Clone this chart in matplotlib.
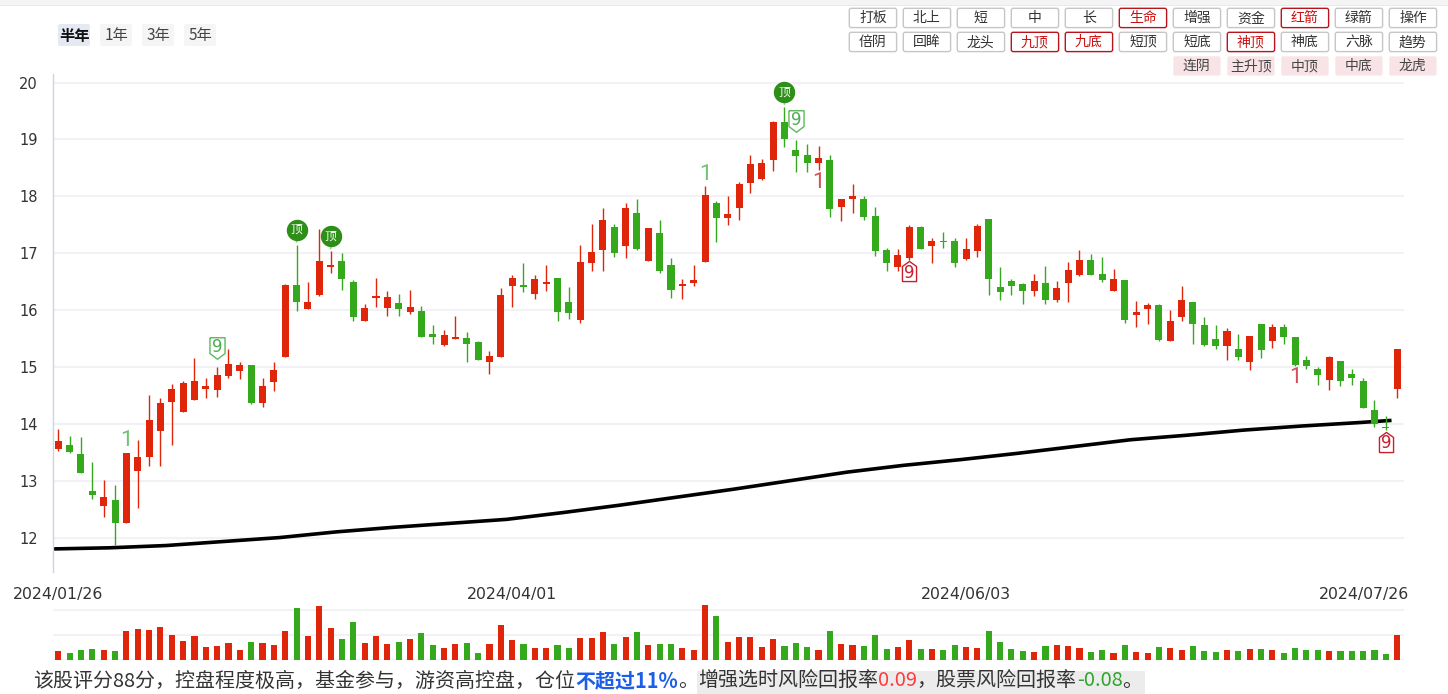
import numpy as np
import matplotlib
matplotlib.use("Agg")
import matplotlib.pyplot as plt
from matplotlib.patches import FancyBboxPatch, Rectangle
from matplotlib.transforms import Affine2D, offset_copy, blended_transform_factory

# ── data ────────────────────────────────────────────────────────────
opens = [13.55, 13.63, 13.47, 12.82, 12.55, 12.66, 12.26, 13.17, 13.42, 13.88,
         14.38, 14.21, 14.41, 14.62, 14.60, 14.84, 14.92, 15.04, 14.36, 14.74,
         15.18, 16.44, 16.02, 16.27, 16.76, 16.86, 16.49, 15.81, 16.21, 16.04,
         16.12, 15.97, 15.98, 15.58, 15.38, 15.49, 15.50, 15.44, 15.08, 15.18,
         16.43, 16.44, 16.29, 16.45, 16.57, 16.14, 15.82, 16.83, 17.05, 17.46,
         17.12, 17.71, 16.87, 17.36, 16.79, 16.42, 16.47, 16.85, 17.88, 17.61,
         17.80, 18.24, 18.30, 18.64, 19.31, 18.81, 18.73, 18.59, 18.64, 17.81,
         17.96, 17.95, 17.65, 17.06, 16.75, 16.92, 17.46, 17.13, 17.21, 17.21,
         16.90, 17.04, 17.60, 16.41, 16.51, 16.46, 16.34, 16.48, 16.17, 16.48,
         16.61, 16.88, 16.63, 16.34, 16.53, 15.92, 16.01, 16.09, 15.45, 15.87,
         16.14, 15.74, 15.49, 15.37, 15.32, 15.09, 15.76, 15.45, 15.70, 15.53,
         15.12, 14.96, 14.77, 15.11, 14.88, 14.75, 14.24, 13.93, 14.61]
highs = [13.91, 13.79, 13.77, 13.33, 13.01, 12.93, 13.49, 13.72, 14.51, 14.46,
         14.70, 14.76, 15.16, 14.81, 15.00, 15.32, 15.09, 15.04, 14.81, 15.09,
         16.45, 17.15, 16.50, 17.42, 17.03, 17.00, 16.53, 16.11, 16.57, 16.34,
         16.29, 16.35, 16.07, 15.74, 15.65, 15.90, 15.61, 15.46, 15.28, 16.38,
         16.62, 16.82, 16.62, 16.79, 16.57, 16.41, 17.14, 17.52, 17.79, 17.51,
         17.89, 17.95, 17.44, 17.58, 16.92, 16.55, 16.79, 18.18, 17.92, 18.01,
         18.25, 18.73, 18.65, 19.32, 19.57, 18.99, 18.92, 18.89, 18.73, 17.95,
         18.22, 18.01, 17.81, 17.09, 17.07, 17.49, 17.48, 17.26, 17.37, 17.26,
         17.27, 17.52, 17.60, 16.76, 16.55, 16.48, 16.63, 16.78, 16.51, 16.85,
         17.06, 16.99, 16.93, 16.72, 16.53, 16.16, 16.12, 16.10, 16.00, 16.42,
         16.14, 15.87, 15.74, 15.69, 15.58, 15.55, 15.76, 15.76, 15.76, 15.53,
         15.19, 15.00, 15.19, 15.11, 14.96, 14.81, 14.42, 14.14, 15.32]
lows = [13.53, 13.49, 13.13, 12.67, 12.37, 11.87, 12.26, 12.52, 13.26, 13.26,
        13.62, 14.21, 14.41, 14.46, 14.48, 14.81, 14.78, 14.35, 14.29, 14.58,
        15.17, 15.99, 16.01, 16.25, 16.65, 16.35, 15.80, 15.81, 16.06, 15.90,
        15.90, 15.93, 15.52, 15.41, 15.37, 15.49, 15.09, 15.12, 14.88, 15.18,
        16.06, 16.31, 16.20, 16.34, 15.80, 15.85, 15.77, 16.69, 16.69, 16.94,
        16.92, 17.06, 16.87, 16.66, 16.22, 16.20, 16.43, 16.85, 17.20, 17.50,
        17.59, 18.05, 18.29, 18.45, 18.87, 18.43, 18.43, 18.46, 17.64, 17.57,
        17.70, 17.58, 16.95, 16.68, 16.69, 16.88, 17.08, 16.82, 17.09, 16.75,
        16.88, 16.94, 16.27, 16.18, 16.27, 16.11, 16.25, 16.11, 16.14, 16.14,
        16.60, 16.62, 16.50, 16.34, 15.78, 15.71, 15.76, 15.46, 15.45, 15.80,
        15.41, 15.37, 15.32, 15.13, 15.13, 14.95, 15.16, 15.34, 15.41, 15.02,
        14.97, 14.68, 14.60, 14.67, 14.69, 14.28, 13.95, 13.89, 14.45]
closes = [13.70, 13.50, 13.14, 12.74, 12.72, 12.26, 13.49, 13.42, 14.07, 14.37,
          14.61, 14.72, 14.75, 14.67, 14.86, 15.05, 15.04, 14.37, 14.67, 14.95,
          16.44, 16.15, 16.14, 16.86, 16.79, 16.55, 15.87, 16.04, 16.25, 16.23,
          16.01, 16.05, 15.53, 15.52, 15.56, 15.51, 15.41, 15.12, 15.19, 16.27,
          16.57, 16.40, 16.55, 16.49, 15.96, 15.94, 16.85, 17.02, 17.58, 17.01,
          17.79, 17.08, 17.44, 16.69, 16.36, 16.44, 16.53, 18.02, 17.62, 17.69,
          18.22, 18.57, 18.58, 19.31, 19.01, 18.71, 18.59, 18.67, 17.78, 17.95,
          18.01, 17.64, 17.04, 16.82, 16.96, 17.46, 17.08, 17.22, 17.19, 16.82,
          17.07, 17.48, 16.54, 16.31, 16.43, 16.34, 16.51, 16.17, 16.39, 16.70,
          16.88, 16.62, 16.52, 16.55, 15.83, 15.97, 16.09, 15.47, 15.81, 16.18,
          15.76, 15.39, 15.37, 15.63, 15.18, 15.55, 15.29, 15.70, 15.52, 15.04,
          15.01, 14.85, 15.18, 14.76, 14.81, 14.28, 13.99, 13.92, 15.32]
volumes = [27, 21, 30, 33, 30, 27, 87, 93, 90, 99,
           75, 57, 72, 39, 42, 51, 30, 54, 51, 45,
           87, 156, 72, 162, 96, 63, 114, 51, 72, 48,
           54, 63, 81, 45, 36, 48, 51, 21, 48, 105,
           60, 48, 36, 36, 45, 36, 66, 66, 84, 48,
           69, 84, 45, 48, 48, 36, 30, 165, 132, 54,
           69, 69, 39, 63, 42, 51, 39, 30, 87, 48,
           45, 42, 75, 33, 39, 60, 33, 33, 30, 45,
           39, 36, 87, 54, 33, 27, 24, 42, 45, 42,
           36, 24, 30, 21, 45, 24, 21, 39, 36, 30,
           42, 27, 24, 30, 27, 33, 33, 30, 21, 36,
           30, 30, 27, 27, 27, 27, 30, 18, 75]

# long moving average, sampled every 5 sessions
ma_idx = [0, 5, 10, 15, 20, 25, 30, 35, 40, 45, 50, 55, 60, 65, 70, 75,
          80, 85, 90, 95, 100, 105, 110, 115, 118]
ma_vals = [11.80, 11.82, 11.86, 11.93, 12.00, 12.10, 12.18, 12.25, 12.32,
           12.44, 12.57, 12.71, 12.85, 13.00, 13.15, 13.27, 13.37, 13.48,
           13.60, 13.72, 13.80, 13.89, 13.96, 14.02, 14.06]

date_idx = [0, 40, 80]
date_labels = ["2024/01/26", "2024/04/01", "2024/06/03"]
last_date = "2024/07/26"

top_marks = [21, 24, 64]       # 顶
nine_up = [14, 65]             # green 9 above
nine_down = [75, 117]          # red 9 below
one_up = [6, 57]               # green 1 above
one_down = [67, 109]           # red 1 below

periods = ["半年", "1年", "3年", "5年"]
row1 = ["打板", "北上", "短", "中", "长", "生命", "增强", "资金", "红箭", "绿箭", "操作"]
row2 = ["倍阴", "回眸", "龙头", "九顶", "九底", "短顶", "短底", "神顶", "神底", "六脉", "趋势"]
row3 = ["连阴", "主升顶", "中顶", "中底", "龙虎"]
active = {"生命", "红箭", "九顶", "九底", "神顶"}

summary = [("该股评分88分，控盘程度极高，基金参与，游资高控盘，仓位", "#333333", "normal"),
           ("不超过11%", "#1d5ee8", "bold"),
           ("。", "#333333", "normal"),
           ("增强选时风险回报率", "#333333", "normal"),
           ("0.09", "#ff3b3b", "normal"),
           ("，股票风险回报率", "#333333", "normal"),
           ("-0.08", "#2ea52a", "normal"),
           ("。", "#333333", "normal")]

# ── style ───────────────────────────────────────────────────────────
RED, GREEN = "#e0260a", "#34a91c"
plt.rcParams["font.family"] = ["Noto Sans CJK SC", "DejaVu Sans"]

W, H = 1448, 694
fig = plt.figure(figsize=(W / 100, H / 100), dpi=100)
fig.patch.set_facecolor("white")
# pixel coordinates, y pointing down
pxT = Affine2D().scale(1, -1).translate(0, H).scale(1 / 100) + fig.dpi_scale_trans

# top strip
fig.patches.append(Rectangle((0, 0), W, 5, transform=pxT, fc="#f4f4f4", ec="none"))
fig.patches.append(Rectangle((0, 5), W, 1, transform=pxT, fc="#e9e9e9", ec="none"))

# ── main candle axes ────────────────────────────────────────────────
ax = fig.add_axes([52.5 / W, 1 - 571.7 / H, (1404 - 52.5) / W, (571.7 - 74) / H])
o, h, l, c = map(np.array, (opens, highs, lows, closes))
idx = np.arange(len(o))
cols = np.where(c >= o, RED, GREEN)

ax.plot(np.array(ma_idx) - 0.5, ma_vals, color="black", lw=2.6, zorder=2,
        solid_capstyle="butt")
ax.vlines(idx, l, h, colors=cols, lw=1.0, zorder=3)
ax.bar(idx, np.maximum(np.abs(c - o), 0.03), bottom=np.minimum(o, c),
       width=0.62, color=cols, linewidth=0, zorder=4)

ax.set_xlim(-0.51, 118.6)
ax.set_ylim(11.40, 20.15)
ax.set_yticks(range(12, 21))
ax.set_xticks([])
ax.tick_params(axis="y", length=0, pad=10.5, labelsize=10.5, labelcolor="#333333")
for lab in ax.get_yticklabels():
    lab.set_fontfamily("DejaVu Sans")
ax.grid(axis="y", color="#f1f1f6", lw=1.5, zorder=0)
for s in ("top", "right", "bottom"):
    ax.spines[s].set_visible(False)
ax.spines["left"].set_color("#c9d6ea")
ax.spines["left"].set_linewidth(1.0)

# 顶 markers
for i in top_marks:
    ax.annotate("", xy=(i, h[i]), xytext=(0, 10.5), textcoords="offset points",
                arrowprops=dict(arrowstyle="-", color="#9fcf9a", lw=1.3), zorder=5)
    tr = offset_copy(ax.transData, fig=fig, x=0, y=15, units="dots")
    ax.plot(i, h[i], "o", ms=14.4, mfc="#2e8f18", mec="#2e8f18", transform=tr,
            zorder=6)
    ax.text(i, h[i], "顶", transform=tr, ha="center", va="center", color="white",
            fontsize=8.5, zorder=7)

shield_dn = [(-0.7, 1), (0.7, 1), (0.7, -0.47), (0, -1), (-0.7, -0.47), (-0.7, 1)]
shield_up = [(-0.7, -1), (0.7, -1), (0.7, 0.5), (0, 1), (-0.7, 0.5), (-0.7, -1)]
for i in nine_up:
    tr = offset_copy(ax.transData, fig=fig, x=0, y=19, units="dots")
    ax.plot(i, h[i], marker=shield_dn, ms=15.5, mfc="white", mec="#5cb85c",
            mew=1.0, transform=tr, zorder=6)
    ax.text(i, h[i], "9", transform=offset_copy(ax.transData, fig=fig, x=0, y=20,
            units="dots"), ha="center", va="center", color="#4cae4f",
            fontsize=12, family="DejaVu Sans", zorder=7)
for i in nine_down:
    tr = offset_copy(ax.transData, fig=fig, x=0, y=-11.5, units="dots")
    ax.plot(i, l[i], marker=shield_up, ms=14.5, mfc="white", mec="#c8202c",
            mew=1.0, transform=tr, zorder=6)
    ax.text(i, l[i], "9", transform=offset_copy(ax.transData, fig=fig, x=0, y=-13,
            units="dots"), ha="center", va="center", color="#c8202c",
            fontsize=12, family="DejaVu Sans", zorder=7)
for i in one_up:
    ax.annotate("1", xy=(i, h[i]), xytext=(0, 1), textcoords="offset points",
                ha="center", va="bottom", color="#74c176", fontsize=16,
                family="Roboto", zorder=7)
for i in one_down:
    ax.annotate("1", xy=(i, l[i]), xytext=(0, -1), textcoords="offset points",
                ha="center", va="top", color="#d4505c", fontsize=16,
                family="Roboto", zorder=7)

# date labels
bt = blended_transform_factory(ax.transData, fig.transFigure)
for i, d in zip(date_idx, date_labels):
    ax.text(i, 1 - 594 / H, d, transform=bt, ha="center", va="center",
            fontsize=11.3, family="DejaVu Sans", color="#333333")
fig.text(1409, 594, last_date, transform=pxT, ha="right", va="center",
         fontsize=11.3, family="DejaVu Sans", color="#333333")

# ── volume axes ─────────────────────────────────────────────────────
vax = fig.add_axes([52.5 / W, 1 - 660 / H, (1404 - 52.5) / W, 60 / H])
vax.bar(idx, volumes, width=0.54, color=cols, linewidth=0, zorder=3)
vax.set_xlim(ax.get_xlim())
vax.set_ylim(0, 180)
vax.set_yticks([0, 75, 150])
vax.set_xticks([])
vax.tick_params(axis="y", length=0, labelleft=False)
vax.grid(axis="y", color="#f1f1f6", lw=1.5, zorder=0)
for s in vax.spines.values():
    s.set_visible(False)

# ── buttons ─────────────────────────────────────────────────────────
for k, p in enumerate(periods):
    x0 = 58 + 42 * k
    sel = k == 0
    fig.patches.append(FancyBboxPatch((x0, 24), 32, 22, transform=pxT,
                       boxstyle="round,pad=0,rounding_size=2",
                       fc="#e4e9f4" if sel else "#f5f5f5", ec="none"))
    fig.text(x0 + 16, 35.5, p, transform=pxT, ha="center", va="center",
             fontsize=11, color="#111111" if sel else "#444444",
             fontweight="bold" if sel else "normal")


def button(col, row, label, kind):
    x0 = 849.3 + 54 * col
    y0 = 8.3 + 24 * row
    if kind == "pink":
        fc, ec, tc = "#f8e4e6", "none", "#444444"
    elif kind == "red":
        fc, ec, tc = "white", "#b8141e", "#cc1010"
    else:
        fc, ec, tc = "white", "#c6c6c6", "#333333"
    fig.patches.append(FancyBboxPatch((x0, y0), 47.3, 19.3, transform=pxT,
                       boxstyle="round,pad=0,rounding_size=2",
                       fc=fc, ec=ec, lw=1.0))
    fig.text(x0 + 23.6, y0 + 9.9, label, transform=pxT, ha="center",
             va="center", fontsize=10, color=tc)


for k, lab in enumerate(row1):
    button(k, 0, lab, "red" if lab in active else "plain")
for k, lab in enumerate(row2):
    button(k, 1, lab, "red" if lab in active else "plain")
for k, lab in enumerate(row3):
    button(k + 6, 2, lab, "pink")

# ── summary line ────────────────────────────────────────────────────
renderer = fig.canvas.get_renderer()
x = 33
grey_start = grey_end = None
for n, (s, col, wt) in enumerate(summary):
    if n == 3:
        grey_start = x
    t = fig.text(x, 681, s, transform=pxT, ha="left", va="center",
                 fontsize=14.4, color=col, fontweight=wt, zorder=3)
    x += t.get_window_extent(renderer).width
grey_end = x
fig.patches.append(Rectangle((grey_start - 1, 670.5), grey_end - grey_start + 3, 24,
                             transform=pxT, fc="#ececec", ec="none", zorder=1))

fig.savefig("out.png", dpi=100, facecolor="white")
